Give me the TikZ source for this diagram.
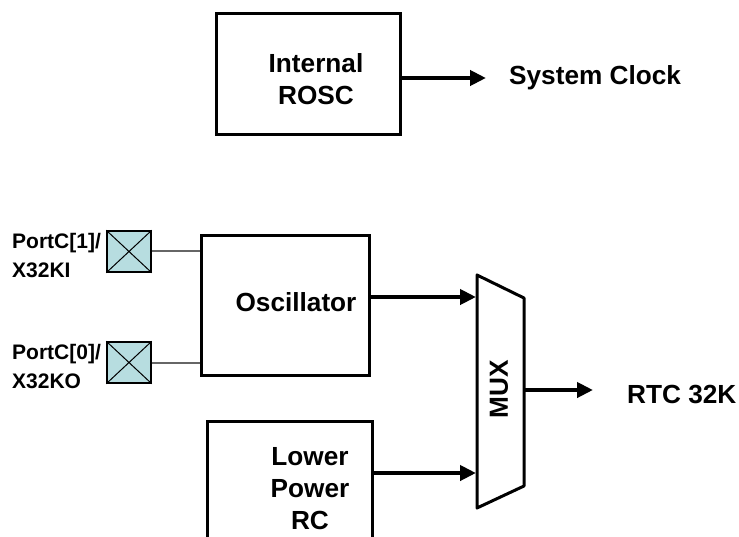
\documentclass[tikz,border=0pt]{standalone}
\usepackage{fontspec}
\setmainfont{Liberation Sans}
\usetikzlibrary{arrows.meta}
\definecolor{padfill}{RGB}{183,221,224}
\begin{document}
\begin{tikzpicture}[x=1pt,y=-1pt,
  box/.style={draw,line width=3pt,minimum width=#1,inner sep=0pt},
  big/.style={font=\bfseries\fontsize{26.2}{32}\selectfont,align=center,inner sep=0pt},
  small/.style={font=\bfseries\fontsize{21}{29}\selectfont,align=left,inner sep=0pt},
  arr/.style={line width=4pt,-{Triangle[length=16pt,width=15pt]}},
  pad/.style={draw,line width=1.5pt,fill=padfill,minimum width=44pt,minimum height=41pt,inner sep=0pt},
  wire/.style={draw=black!60,line width=1.5pt}]
\useasboundingbox (0,0) rectangle (739,536);
\clip (0,0) rectangle (739,536);
% boxes
\node[box=184pt,minimum height=121pt] (rosc) at (308,73.5) {};
\node[big] (rosct) at (316,79) {Internal\\ROSC};
\node[box=168pt,minimum height=140pt] (osc) at (285,305) {};
\node[big] (osct) at (296,302) {Oscillator};
\node[box=165pt,minimum height=140pt] (lprc) at (289.5,491) {};
\node[big] (lprct) at (310,489) {Lower\\Power\\RC};
% pads
\node[pad] (p1) at (129,251.5) {};
\node[pad] (p2) at (129,362.5) {};
\foreach \p in {p1,p2}{
  \draw[line width=1pt] (\p.north west) -- (\p.south east) (\p.north east) -- (\p.south west);
}
\node[small,anchor=west] (p1t) at (12,256) {PortC[1]/\\X32KI};
\node[small,anchor=west] (p2t) at (12,367) {PortC[0]/\\X32KO};
\draw[wire] (p1.east |- 0,251) -- (osc.west |- 0,251);
\draw[wire] (p2.east |- 0,363) -- (osc.west |- 0,363);
% mux
\coordinate (mtl) at (477,275);
\coordinate (mbl) at (477,508);
\coordinate (mtr) at (524,298);
\coordinate (mbr) at (524,486);
\draw[line width=3pt,line join=round] (mtl) -- (mtr) -- (mbr) -- (mbl) -- cycle;
\node[big,rotate=90] (muxt) at (499,389) {MUX};
\coordinate (min1) at (476,297);
\coordinate (min2) at (476,473);
\coordinate (mout) at (524,390);
% arrows and labels
\coordinate (scend) at (486,78);
\node[big,anchor=west] (sc) at (509,78) {System Clock};
\draw[arr] (rosc.east |- scend) -- (scend);
\draw[arr] (osc.east |- min1) -- (min1);
\draw[arr] (lprc.east |- min2) -- (min2);
\coordinate (rtcend) at (593,390);
\node[big,anchor=west] (rtc) at (627,394) {RTC 32K};
\draw[arr] (mout) -- (rtcend);
\end{tikzpicture}
\end{document}
